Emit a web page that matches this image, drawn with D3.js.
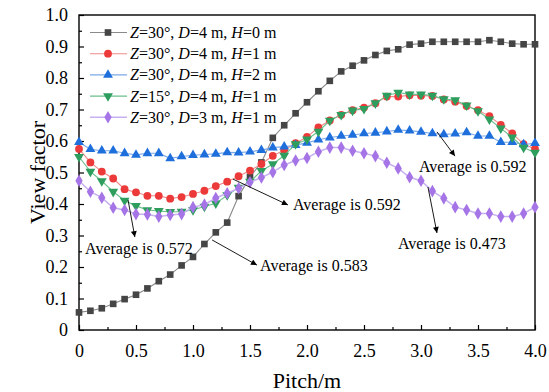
<!DOCTYPE html>
<html>
<head>
<meta charset="utf-8">
<script src="https://cdn.jsdelivr.net/npm/d3@7"></script>
<style>
  body { margin: 0; background: #fff; }
  svg text { font-family: "Liberation Serif", "Times New Roman", "DejaVu Serif", serif; }
</style>
</head>
<body>
<svg id="chart" width="549" height="392" viewBox="0 0 549 392"></svg>
<script>
/* ----- data ----- */
const pitch = d3.range(41).map(i => +(i * 0.1).toFixed(1));

const seriesNames = ["H0", "H1", "H2", "Z15", "D3"];

const valuesH0 = [0.056, 0.061, 0.069, 0.083, 0.098, 0.112, 0.132, 0.155, 0.176, 0.205,
  0.232, 0.273, 0.310, 0.341, 0.425, 0.486, 0.532, 0.610, 0.650, 0.688,
  0.723, 0.758, 0.791, 0.821, 0.839, 0.856, 0.873, 0.886, 0.891, 0.906,
  0.909, 0.915, 0.915, 0.915, 0.915, 0.915, 0.920, 0.915, 0.909, 0.907, 0.907];

const valuesH1 = [0.575, 0.532, 0.503, 0.481, 0.447, 0.437, 0.426, 0.426, 0.417, 0.422,
  0.432, 0.442, 0.457, 0.471, 0.488, 0.506, 0.527, 0.553, 0.571, 0.593,
  0.613, 0.643, 0.665, 0.683, 0.698, 0.706, 0.720, 0.741, 0.741, 0.745,
  0.744, 0.743, 0.732, 0.725, 0.711, 0.698, 0.679, 0.651, 0.624, 0.590, 0.575];

const valuesH2 = [0.596, 0.574, 0.569, 0.569, 0.561, 0.556, 0.561, 0.561, 0.545, 0.551,
  0.555, 0.557, 0.559, 0.564, 0.563, 0.566, 0.571, 0.579, 0.582, 0.587,
  0.594, 0.604, 0.611, 0.616, 0.619, 0.624, 0.626, 0.630, 0.635, 0.633,
  0.629, 0.624, 0.621, 0.623, 0.627, 0.616, 0.616, 0.596, 0.596, 0.589, 0.593];

const valuesZ15 = [0.550, 0.503, 0.473, 0.439, 0.411, 0.394, 0.381, 0.378, 0.375, 0.376,
  0.381, 0.392, 0.402, 0.428, 0.452, 0.471, 0.505, 0.527, 0.554, 0.590,
  0.605, 0.630, 0.665, 0.683, 0.697, 0.702, 0.720, 0.744, 0.754, 0.748,
  0.748, 0.744, 0.733, 0.730, 0.713, 0.695, 0.669, 0.640, 0.612, 0.579, 0.563];

const valuesD3 = [0.474, 0.439, 0.420, 0.388, 0.381, 0.368, 0.367, 0.360, 0.365, 0.368,
  0.390, 0.398, 0.419, 0.434, 0.450, 0.469, 0.484, 0.501, 0.524, 0.538,
  0.546, 0.566, 0.579, 0.579, 0.569, 0.561, 0.552, 0.531, 0.513, 0.485,
  0.474, 0.441, 0.418, 0.390, 0.381, 0.370, 0.370, 0.360, 0.360, 0.370, 0.390];

// legend labels: [Z, D, H]
const legendLabels = [
  ["30°", "4", "0"],
  ["30°", "4", "1"],
  ["30°", "4", "2"],
  ["15°", "4", "1"],
  ["30°", "3", "1"]
];

const annotations = [
  {text: "Average is 0.572", from: [0.43, 0.413], to: [0.49, 0.295], at: [0.053, 0.241]},
  {text: "Average is 0.583", from: [1.167, 0.286], to: [1.561, 0.206], at: [1.588, 0.187]},
  {text: "Average is 0.592", from: [1.351, 0.479], to: [1.833, 0.397], at: [1.877, 0.381]},
  {text: "Average is 0.592", from: [3.14, 0.629], to: [3.298, 0.552], at: [2.982, 0.502]},
  {text: "Average is 0.473", from: [3.061, 0.454], to: [3.14, 0.308], at: [2.798, 0.257]}
];

const xTicks = [0, 0.5, 1.0, 1.5, 2.0, 2.5, 3.0, 3.5, 4.0];
const yTicks = [0, 0.1, 0.2, 0.3, 0.4, 0.5, 0.6, 0.7, 0.8, 0.9, 1.0];

/* ----- layout ----- */
const serif = "Liberation Serif, Times New Roman, DejaVu Serif, serif";
const svg = d3.select("#chart").attr("font-family", serif);
const plotLeft = 79, plotRight = 535, plotTop = 15, plotBottom = 330;

const x = d3.scaleLinear().domain([0, 4]).range([plotLeft, plotRight]);
const y = d3.scaleLinear().domain([0, 1]).range([plotBottom, plotTop]);

const styles = {
  H0:  {line: "#8a8a8a", fill: "#454545", symbol: d3.symbolSquare, size: 44, rot: 0},
  H1:  {line: "#f08a8a", fill: "#ec3a3a", symbol: d3.symbolCircle, size: 48, rot: 0},
  H2:  {line: "#7aa8e8", fill: "#1e6fdc", symbol: d3.symbolTriangle, size: 42, rot: 0},
  Z15: {line: "#6cbf8c", fill: "#2e9e5e", symbol: d3.symbolTriangle, size: 42, rot: 180},
  D3:  {line: "#c6b0f0", fill: "#a574e6", symbol: d3.symbolDiamond, size: 46, rot: 0}
};

const allValues = {H0: valuesH0, H1: valuesH1, H2: valuesH2, Z15: valuesZ15, D3: valuesD3};

/* ----- axes ----- */
const fmt = d => d === 0 ? "0" : d.toFixed(1);

svg.append("g")
  .attr("transform", `translate(0,${plotBottom})`)
  .call(d3.axisBottom(x).tickValues(xTicks).tickFormat(fmt).tickSize(-5).tickPadding(14));
svg.append("g")
  .attr("transform", `translate(0,${plotBottom})`)
  .call(d3.axisBottom(x).tickValues(d3.range(0.25, 4, 0.5)).tickFormat("").tickSize(-3));

svg.append("g")
  .attr("transform", `translate(${plotLeft},0)`)
  .call(d3.axisLeft(y).tickValues(yTicks).tickFormat(fmt).tickSize(-5).tickPadding(11));
svg.append("g")
  .attr("transform", `translate(${plotLeft},0)`)
  .call(d3.axisLeft(y).tickValues(d3.range(0.05, 1, 0.1)).tickFormat("").tickSize(-3));

svg.selectAll(".domain").remove();
svg.selectAll("g").attr("font-family", serif);
svg.selectAll(".tick line").attr("stroke", "#000").attr("stroke-width", 1.2);
svg.selectAll(".tick text")
  .attr("font-size", 18)
  .attr("fill", "#000");

svg.append("rect")
  .attr("x", plotLeft).attr("y", plotTop)
  .attr("width", plotRight - plotLeft).attr("height", plotBottom - plotTop)
  .attr("fill", "none").attr("stroke", "#000").attr("stroke-width", 1.4);

svg.append("text")
  .attr("x", (plotLeft + plotRight) / 2).attr("y", 388)
  .attr("text-anchor", "middle")
  .attr("font-size", 22)
  .text("Pitch/m");

svg.append("text")
  .attr("transform", `translate(45,${(plotTop + plotBottom) / 2}) rotate(-90)`)
  .attr("text-anchor", "middle")
  .attr("font-size", 22)
  .text("View factor");

/* ----- series ----- */
const line = d3.line().x((d, i) => x(pitch[i])).y(d => y(d));
const plot = svg.append("g");

seriesNames.forEach(name => {
  const st = styles[name];
  const vals = allValues[name];
  plot.append("path")
    .attr("d", line(vals))
    .attr("fill", "none")
    .attr("stroke", st.line)
    .attr("stroke-width", name === "D3" ? 1.5 : 1.1);
  plot.append("g").selectAll("path")
    .data(vals)
    .enter()
    .append("path")
    .attr("d", d3.symbol().type(st.symbol).size(st.size))
    .attr("transform", (d, i) => `translate(${x(pitch[i])},${y(d)}) rotate(${st.rot})`)
    .attr("fill", st.fill);
});

/* ----- legend ----- */
const legend = svg.append("g");
seriesNames.forEach((name, i) => {
  const st = styles[name];
  const ly = 32.5 + i * 21.2;
  const lab = legendLabels[i];
  legend.append("line")
    .attr("x1", 90).attr("x2", 127).attr("y1", ly).attr("y2", ly)
    .attr("stroke", st.line).attr("stroke-width", name === "D3" ? 1.5 : 1.1);
  legend.append("path")
    .attr("d", d3.symbol().type(st.symbol).size(st.size))
    .attr("transform", `translate(108,${ly}) rotate(${st.rot})`)
    .attr("fill", st.fill);
  const t = legend.append("text")
    .attr("x", 130).attr("y", ly + 5.5)
    .attr("font-size", 16);
  t.append("tspan").attr("font-style", "italic").text("Z");
  t.append("tspan").text("=" + lab[0] + ", ");
  t.append("tspan").attr("font-style", "italic").text("D");
  t.append("tspan").text("=" + lab[1] + " m, ");
  t.append("tspan").attr("font-style", "italic").text("H");
  t.append("tspan").text("=" + lab[2] + " m");
});

/* ----- annotations ----- */
svg.append("defs").append("marker")
  .attr("id", "arrow")
  .attr("viewBox", "0 -5 10 10")
  .attr("refX", 10).attr("refY", 0)
  .attr("markerWidth", 9).attr("markerHeight", 6)
  .attr("markerUnits", "userSpaceOnUse")
  .attr("orient", "auto")
  .append("path")
  .attr("d", "M0,-5L10,0L0,5Z")
  .attr("fill", "#000");

const notes = svg.append("g");
annotations.forEach(a => {
  notes.append("line")
    .attr("x1", x(a.from[0])).attr("y1", y(a.from[1]))
    .attr("x2", x(a.to[0])).attr("y2", y(a.to[1]))
    .attr("stroke", "#000").attr("stroke-width", 0.9)
    .attr("marker-end", "url(#arrow)");
  notes.append("text")
    .attr("x", x(a.at[0])).attr("y", y(a.at[1]))
    .attr("font-size", 16)
    .text(a.text);
});
</script>
</body>
</html>
